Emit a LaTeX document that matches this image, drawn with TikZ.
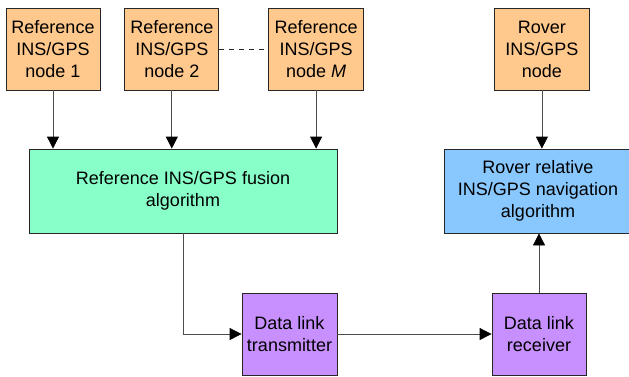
\documentclass[tikz,border=0pt]{standalone}
\usepackage{fontspec}
\setmainfont{Liberation Sans}
\usetikzlibrary{arrows.meta,positioning}

\definecolor{sensorcol}{HTML}{FFC88C}
\definecolor{fusioncol}{HTML}{88FFC8}
\definecolor{navcol}{HTML}{88C8FF}
\definecolor{linkcol}{HTML}{C890FF}

\begin{document}
\begin{tikzpicture}[x=1pt,y=1pt,semithick,
    font=\fontsize{18}{22}\selectfont]
	  \tikzstyle{block}=[rectangle,draw=black!85,line width=0.8pt,inner sep=0pt,align=center,text=black]
	  \tikzstyle{sensor}=[block,fill=sensorcol,minimum width=94pt,minimum height=82pt]
	  \tikzstyle{linkbox}=[block,fill=linkcol,minimum width=95pt,minimum height=82pt]
	  \tikzstyle{flow}=[draw=black!70,line width=0.8pt,-{Triangle[width=12pt,length=12pt,color=black]}]

	  \useasboundingbox (0,0) rectangle (629,-376);

	  \node[sensor] (ref1) at (53,-49) {Reference\\INS/GPS\\node 1};
	  \node[sensor] (ref2) [right=24pt of ref1] {Reference\\INS/GPS\\node 2};
	  \node[sensor,minimum width=95pt] (refM) [right=49pt of ref2] {Reference\\INS/GPS\\node \textit{M}};
	  \node[sensor,minimum width=95pt] (rover) [right=130pt of refM] {Rover\\INS/GPS\\node};

	  \node[block,fill=fusioncol,minimum width=308pt,minimum height=84pt] (fusion) at (183,-191) {Reference INS/GPS fusion\\algorithm};
	  \node[block,fill=navcol,minimum width=188pt,minimum height=84pt] (nav) at (538,-191) {Rover relative\\INS/GPS navigation\\algorithm};

	  \node[linkbox] (tx) at (289.5,-334) {Data link\\transmitter};
	  \node[linkbox,minimum width=94pt] (rx) at (539,-334) {Data link\\receiver};

	  \path[flow] (ref1) edge (ref1 |- fusion.north)
	  (ref2) edge (ref2 |- fusion.north)
	  (refM) edge (refM |- fusion.north)
	  (rover) edge (rover |- nav.north)
	  (rx) edge (rx |- nav.south)
	  (tx) edge (rx);
	  \draw[flow] (fusion.south) |- (tx);
	  \draw[draw=black!85,line width=0.8pt,dash pattern=on 5pt off 5pt] (ref2) -- (refM);
	\end{tikzpicture}
\end{document}
